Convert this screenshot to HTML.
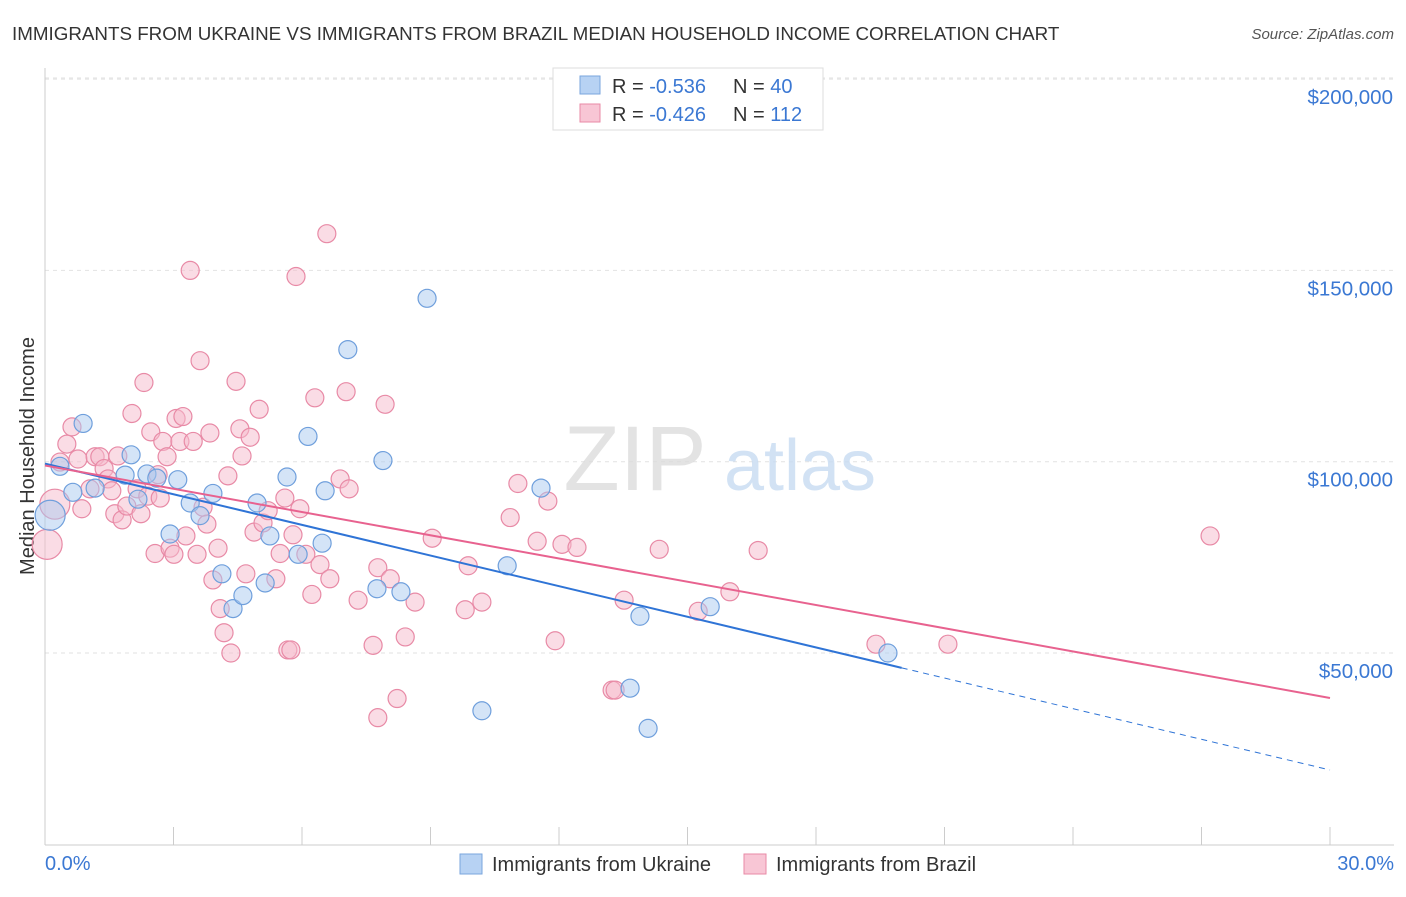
<!DOCTYPE html>
<html><head><meta charset="utf-8">
<style>
body{margin:0;background:#fff;font-family:"Liberation Sans",sans-serif;}
svg text{font-family:"Liberation Sans",sans-serif;}
</style></head>
<body>
<svg width="1406" height="892" xmlns="http://www.w3.org/2000/svg">
<text x="12" y="40" font-size="18.8" fill="#333">IMMIGRANTS FROM UKRAINE VS IMMIGRANTS FROM BRAZIL MEDIAN HOUSEHOLD INCOME CORRELATION CHART</text>
<text x="1394" y="39" font-size="15" fill="#555" text-anchor="end" font-style="italic">Source: ZipAtlas.com</text>
<g id="grid"></g>
<g>
<text x="635" y="490" font-size="92" fill="#ddd" text-anchor="middle" font-family="Liberation Serif" opacity="0.8">ZIP</text>
<text x="800" y="490" font-size="72" fill="#c8dcf2" text-anchor="middle" opacity="0.8">atlas</text>
</g>
<line x1="45" y1="68" x2="45" y2="845" stroke="#ccc"/>
<line x1="45" y1="845" x2="1394" y2="845" stroke="#ccc"/>
<g id="ticks"></g>
<g id="ylabels"></g>
<text x="45" y="870" font-size="20" fill="#3b78d3">0.0%</text>
<text x="1394" y="870" font-size="20" fill="#3b78d3" text-anchor="end">30.0%</text>
<text transform="translate(34,456) rotate(-90)" font-size="20" fill="#333" text-anchor="middle">Median Household Income</text>
<g id="pink"></g>
<g id="blue"></g>
<g id="lines"></g>
<g>
<rect x="553" y="68" width="270" height="62" fill="#fff" stroke="#ddd"/>
<rect x="580" y="76" width="20" height="18" fill="#b7d2f3" stroke="#7aa6de"/>
<rect x="580" y="104" width="20" height="18" fill="#f8c6d5" stroke="#e88aa6"/>
<text x="612" y="93" font-size="20" fill="#333">R = <tspan fill="#3b78d3">-0.536</tspan></text>
<text x="733" y="93" font-size="20" fill="#333">N = <tspan fill="#3b78d3">40</tspan></text>
<text x="612" y="121" font-size="20" fill="#333">R = <tspan fill="#3b78d3">-0.426</tspan></text>
<text x="733" y="121" font-size="20" fill="#333">N = <tspan fill="#3b78d3">112</tspan></text>
</g>
<g>
<rect x="460" y="854" width="22" height="20" fill="#b7d2f3" stroke="#7aa6de"/>
<text x="492" y="871" font-size="20" fill="#333">Immigrants from Ukraine</text>
<rect x="744" y="854" width="22" height="20" fill="#f8c6d5" stroke="#e88aa6"/>
<text x="776" y="871" font-size="20" fill="#333">Immigrants from Brazil</text>
</g>
</svg>
<script>
const yTicks=[50000,100000,150000,200000];
const yTickLabels=["$50,000","$100,000","$150,000","$200,000"];
const xTicks=[0,3,6,9,12,15,18,21,24,27,30];
const ukraineX=[0.12,0.65,0.89,0.35,1.17,2.01,1.87,2.38,2.17,2.61,2.92,3.1,3.39,3.62,3.92,4.13,4.39,4.62,4.95,5.14,5.25,5.65,5.91,6.14,6.47,6.54,7.07,7.75,7.89,8.31,8.92,10.2,10.79,11.58,13.66,13.89,14.08,15.53,19.68];
const ukraineY=[86000,92000,110000,98800,93100,101800,96500,96800,90200,95700,81100,95300,89200,85900,91700,70700,61600,65000,89200,68300,80600,96000,75800,106600,78700,92400,129300,66800,100300,66000,142700,34900,72800,93100,40800,59600,30300,62100,50000];
const brazilX=[0.05,0.23,0.35,0.51,0.63,0.77,0.86,1.05,1.17,1.28,1.38,1.47,1.56,1.63,1.7,1.8,1.91,2.03,2.15,2.24,2.31,2.4,2.47,2.57,2.64,2.69,2.75,2.85,2.92,3.01,3.06,3.15,3.22,3.29,3.39,3.46,3.55,3.62,3.69,3.78,3.85,3.92,4.04,4.09,4.18,4.27,4.34,4.46,4.55,4.6,4.69,4.79,4.88,5,5.09,5.21,5.39,5.49,5.6,5.67,5.74,5.79,5.86,5.95,6.09,6.23,6.3,6.42,6.58,6.65,6.89,7.03,7.1,7.31,7.66,7.77,7.77,7.94,8.06,8.22,8.41,8.64,9.04,9.81,9.88,10.2,10.86,11.04,11.49,11.74,11.91,12.07,12.42,13.24,13.31,13.52,14.34,15.25,15.99,16.65,19.4,21.08,27.2];
const brazilY=[78400,88900,99900,104600,109100,100700,87700,92900,101300,101300,98200,95500,92400,86400,101500,84800,88400,112600,92900,86400,120700,91000,107800,76000,96600,90500,105300,101300,77400,75800,111300,105300,111800,80600,150000,105300,75800,126400,88100,83700,107500,69100,77400,61600,55300,96300,50000,121000,108600,101500,70700,106400,81600,113700,84000,87200,69400,76000,90500,50800,50800,80900,148400,87700,75800,65300,116700,73100,159600,69400,95500,118300,92900,63800,52000,33100,72300,115000,69400,38100,54200,63300,80000,61300,72800,63300,85400,94300,79200,89700,53200,78400,77600,40300,40300,63800,77100,60900,66000,76800,52300,52300,80600];
const X0=45,X1=1330,Y50=653,PX_PER=0.003826;
const xs=p=>X0+(p/30)*(X1-X0);
const ys=v=>Y50-(v-50000)*PX_PER;
const NS="http://www.w3.org/2000/svg";
function mk(t,a,parent){const e=document.createElementNS(NS,t);for(const k in a)e.setAttribute(k,a[k]);parent.appendChild(e);return e;}
const grid=document.getElementById('grid'),yl=document.getElementById('ylabels'),tk=document.getElementById('ticks');
yTicks.forEach((v,i)=>{
 const l=mk('line',{x1:45,x2:1394,y1:ys(v),y2:ys(v),stroke:'#e2e2e2','stroke-dasharray':'4,4'},grid);
 
 
 const t=mk('text',{x:1393,y:ys(v)+25,'font-size':20.5,fill:'#3b78d3','text-anchor':'end'},yl);
 t.textContent=yTickLabels[i];
 
 
});
mk('line',{x1:45,x2:1394,y1:78,y2:78,stroke:'#e2e2e2','stroke-dasharray':'4,4'},grid);
xTicks.forEach(p=>{
 const l=mk('line',{x1:xs(p),x2:xs(p),y1:827,y2:845,stroke:'#ccc'},tk);
 
 
});
function pts(X,Y,g,fill,stroke,name,bigIdx){
 X.forEach((x,i)=>{
  const c=mk('circle',{cx:xs(x),cy:ys(Y[i]),r:bigIdx.includes(i)?15:9,fill:fill,'fill-opacity':0.5,stroke:stroke,'stroke-width':1.2},g);
  
  
 });
}
pts(brazilX,brazilY,document.getElementById('pink'),'#f6b9cc','#e88aa6','brazil-point',[0,1]);
pts(ukraineX,ukraineY,document.getElementById('blue'),'#a9c9f0','#6f9fdc','ukraine-point',[0]);
const lines=document.getElementById('lines');
const blueFit=[99500,-2669], pinkFit=[99000,-2025];
const f=(fit,p)=>fit[0]+fit[1]*p;
let l=mk('line',{x1:xs(0),y1:ys(f(blueFit,0)),x2:xs(20),y2:ys(f(blueFit,20)),stroke:'#2f74d6','stroke-width':2},lines);


l=mk('line',{x1:xs(20),y1:ys(f(blueFit,20)),x2:xs(30),y2:ys(f(blueFit,30)),stroke:'#2f74d6','stroke-width':1,'stroke-dasharray':'6,5'},lines);


l=mk('line',{x1:xs(0),y1:ys(f(pinkFit,0)),x2:xs(30),y2:ys(f(pinkFit,30)),stroke:'#e8628f','stroke-width':2},lines);


</script>
</body></html>
